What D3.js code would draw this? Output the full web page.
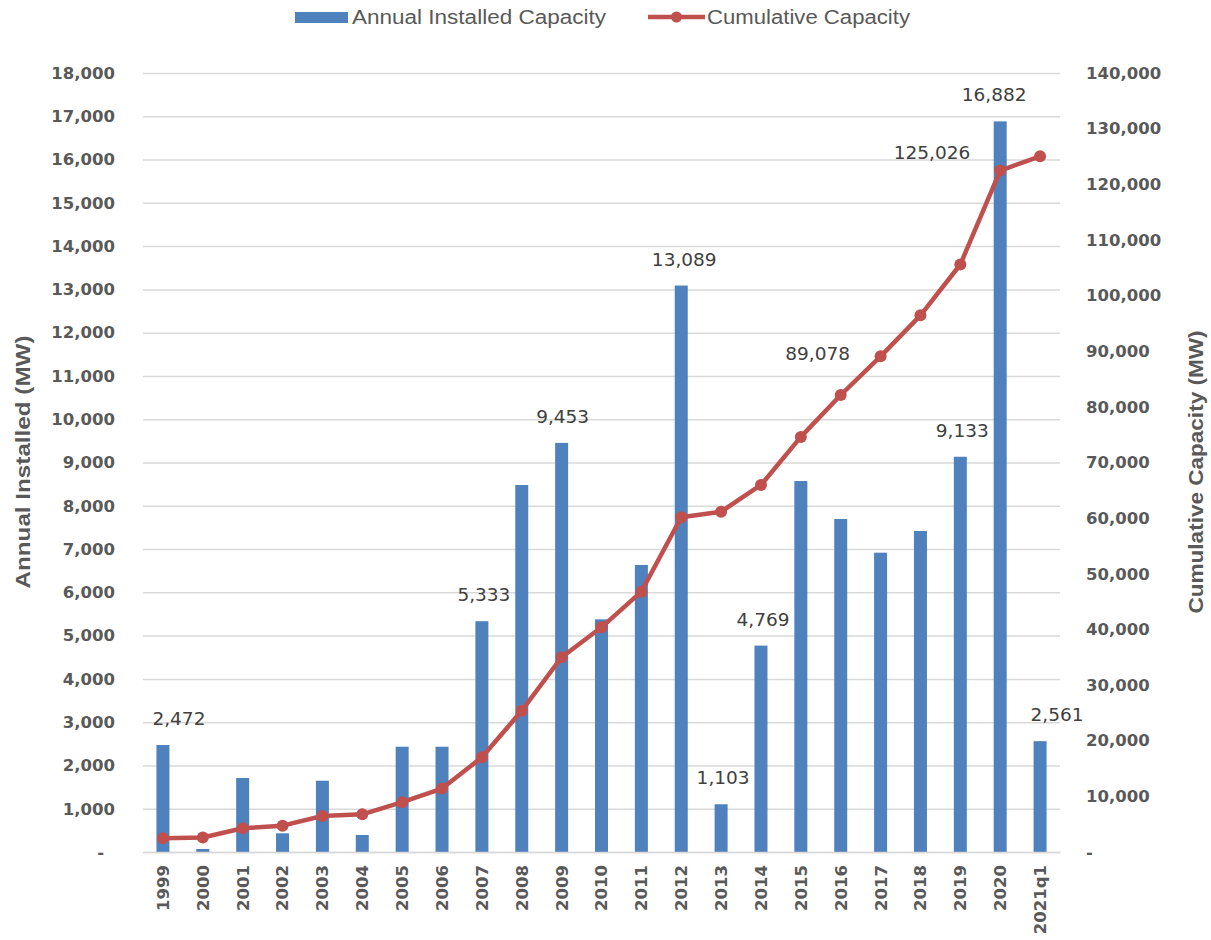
<!DOCTYPE html>
<html><head><meta charset="utf-8">
<script src="https://cdn.jsdelivr.net/npm/d3@7"></script>
<style>body{margin:0;background:#fff}svg{display:block;background:#fff}</style>
</head><body><svg id="chart" width="1211" height="940"></svg>
<script>
// ---------------- DATA ----------------
const categories = ["1999","2000","2001","2002","2003","2004","2005","2006","2007","2008","2009","2010",
  "2011","2012","2013","2014","2015","2016","2017","2018","2019","2020","2021q1"];
const annualMW = [2472, 70, 1710, 432, 1647, 393, 2433, 2433, 5333, 8480, 9453, 5376,
  6631, 13089, 1103, 4769, 8572, 7694, 6916, 7417, 9133, 16882, 2561];
const cumulativeMW = [2460, 2600, 4260, 4730, 6470, 6775, 8950, 11400, 17020, 25400, 35000, 40380,
  46790, 60150, 61160, 65960, 74600, 82130, 89078, 96450, 105583, 122465, 125026];
const leftTickValues = [0,1000,2000,3000,4000,5000,6000,7000,8000,9000,10000,11000,12000,13000,14000,15000,16000,17000,18000];
const rightTickValues = [0,10000,20000,30000,40000,50000,60000,70000,80000,90000,100000,110000,120000,130000,140000];
const annualLabelCategories = ["1999","2007","2009","2012","2013","2014","2019","2020","2021q1"];
const cumulativeLabelCategories = ["2017","2021q1"];
const seriesNames = ["Annual Installed Capacity","Cumulative Capacity"];
const axisTitles = ["Annual Installed (MW)","Cumulative Capacity (MW)"];

// ---------------- LAYOUT / STYLE ----------------
const plot = {left:143, right:1060, top:73, bottom:852};
const BLUE = "#4F81BD", RED = "#C0504D", GRID = "#d9d9d9", TICK = "#595959", LABEL = "#404040";
const annualLabelNudge = {"1999":16, "2007":2, "2009":1, "2012":3, "2013":2, "2014":2, "2019":2, "2020":-6, "2021q1":17};
const cumulativeLabelNudge = {"2017":[-63,-3], "2021q1":[-108,-4]};
const fmt = d3.format(",");

const svg = d3.select("#chart");
svg.append("rect").attr("width",1211).attr("height",940).attr("fill","#fff");

const x = d3.scaleBand().domain(categories).range([plot.left, plot.right]).padding(0);
const cx = c => x(c) + x.bandwidth()/2;
const yL = d3.scaleLinear().domain([0,18000]).range([plot.bottom, plot.top]);
const yR = d3.scaleLinear().domain([0,140000]).range([plot.bottom, plot.top]);

// gridlines
const grid = svg.append("g").attr("transform",`translate(${plot.left},0)`)
  .call(d3.axisLeft(yL).tickValues(leftTickValues).tickSize(-(plot.right-plot.left)).tickFormat(""));
grid.select(".domain").remove();
grid.selectAll("line").attr("stroke",GRID).attr("stroke-width",1.5);

// bars
const barW = 13;
svg.append("g").selectAll("rect").data(categories).join("rect")
  .attr("x", c => cx(c) - barW/2)
  .attr("width", barW)
  .attr("y", (c,i) => yL(annualMW[i]))
  .attr("height", (c,i) => yL(0) - yL(annualMW[i]))
  .attr("fill", BLUE);

// cumulative line
const line = d3.line().x((d,i) => cx(categories[i])).y(d => yR(d));
svg.append("path").datum(cumulativeMW).attr("d", line)
  .attr("fill","none").attr("stroke",RED).attr("stroke-width",4.5).attr("stroke-linejoin","round");
svg.append("g").selectAll("circle").data(cumulativeMW).join("circle")
  .attr("cx",(d,i)=>cx(categories[i])).attr("cy",d=>yR(d)).attr("r",6).attr("fill",RED);

// data labels
const dataFont = "'DejaVu Sans', Verdana, sans-serif";
svg.append("g").selectAll("text").data(annualLabelCategories).join("text")
  .attr("x", c => cx(c) + (annualLabelNudge[c]||0))
  .attr("y", c => yL(annualMW[categories.indexOf(c)]) - 20)
  .attr("text-anchor","middle").attr("font-family",dataFont).attr("font-size",18.5)
  .attr("fill",LABEL).text(c => fmt(annualMW[categories.indexOf(c)]));
svg.append("g").selectAll("text").data(cumulativeLabelCategories).join("text")
  .attr("x", c => cx(c) + cumulativeLabelNudge[c][0])
  .attr("y", c => yR(cumulativeMW[categories.indexOf(c)]) + cumulativeLabelNudge[c][1])
  .attr("dy","0.35em")
  .attr("text-anchor","middle").attr("font-family",dataFont).attr("font-size",18.5)
  .attr("fill",LABEL).text(c => fmt(cumulativeMW[categories.indexOf(c)]));

// axes
const tickFont = "'DejaVu Sans', Verdana, sans-serif";
const left = svg.append("g").attr("transform",`translate(${plot.left},0)`)
  .call(d3.axisLeft(yL).tickValues(leftTickValues).tickSize(0).tickPadding(28)
    .tickFormat(v => v === 0 ? "-" : fmt(v)));
left.select(".domain").remove();
left.selectAll("text").attr("font-family",tickFont).attr("font-size",16.5).attr("font-weight","bold").attr("fill",TICK)
  .attr("dx", v => v === 0 ? -11 : 0);

const right = svg.append("g").attr("transform",`translate(${plot.right},0)`)
  .call(d3.axisRight(yR).tickValues(rightTickValues).tickSize(0).tickPadding(26)
    .tickFormat(v => v === 0 ? "-" : fmt(v)));
right.select(".domain").remove();
right.selectAll("text").attr("font-family",tickFont).attr("font-size",16.5).attr("font-weight","bold").attr("fill",TICK);

const bottom = svg.append("g").attr("transform",`translate(0,${plot.bottom})`)
  .call(d3.axisBottom(x).tickSize(0));
bottom.select(".domain").attr("stroke",GRID).attr("stroke-width",1.5);
bottom.selectAll("text").attr("font-family",tickFont).attr("font-size",16.5).attr("font-weight","bold").attr("fill",TICK)
  .attr("transform","rotate(-90)").attr("text-anchor","end").attr("x",-13).attr("y",0).attr("dy","0.36em");

// axis titles
const titleFont = "'Liberation Sans Narrow', 'Liberation Sans', Arial, sans-serif";
svg.append("text").attr("transform","translate(23,462) rotate(-90)")
  .attr("text-anchor","middle").attr("dy","0.35em")
  .attr("font-family",titleFont).attr("font-weight","bold").attr("font-size",20).attr("fill",TICK)
  .attr("textLength",253).attr("lengthAdjust","spacingAndGlyphs").text(axisTitles[0]);
svg.append("text").attr("transform","translate(1196,472) rotate(-90)")
  .attr("text-anchor","middle").attr("dy","0.35em")
  .attr("font-family",titleFont).attr("font-weight","bold").attr("font-size",20).attr("fill",TICK)
  .attr("textLength",283).attr("lengthAdjust","spacingAndGlyphs").text(axisTitles[1]);

// legend
const lg = svg.append("g");
lg.append("rect").attr("x",295).attr("y",12).attr("width",53).attr("height",11).attr("fill",BLUE);
lg.append("text").attr("x",352).attr("y",24).attr("font-family",titleFont).attr("font-size",20).attr("fill",TICK)
  .attr("textLength",254).attr("lengthAdjust","spacingAndGlyphs").text(seriesNames[0]);
lg.append("line").attr("x1",648).attr("x2",705).attr("y1",17).attr("y2",17).attr("stroke",RED).attr("stroke-width",4.5);
lg.append("circle").attr("cx",676.5).attr("cy",17).attr("r",5.5).attr("fill",RED);
lg.append("text").attr("x",707).attr("y",24).attr("font-family",titleFont).attr("font-size",20).attr("fill",TICK)
  .attr("textLength",203).attr("lengthAdjust","spacingAndGlyphs").text(seriesNames[1]);
</script></body></html>
